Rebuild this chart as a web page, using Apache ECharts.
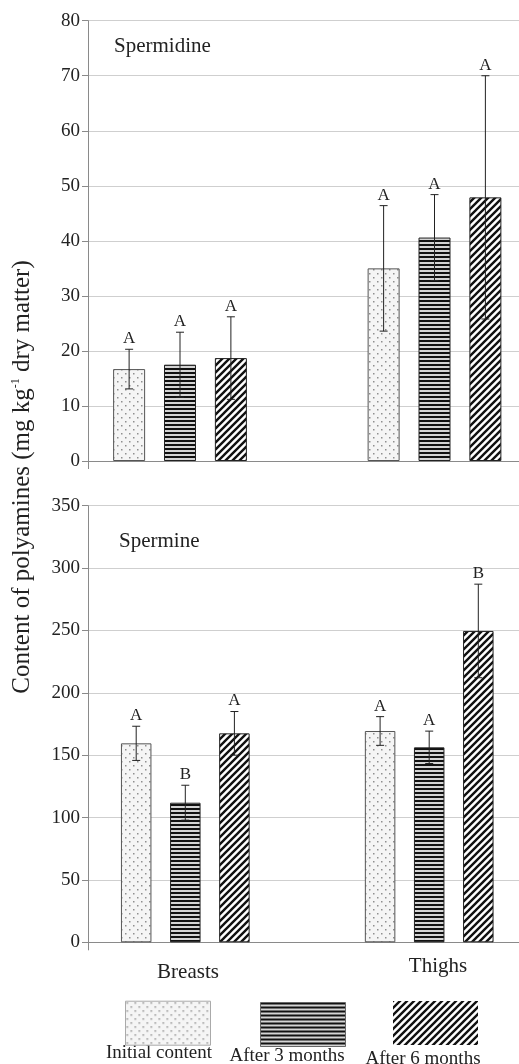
<!DOCTYPE html>
<html><head><meta charset="utf-8">
<script src="https://cdn.jsdelivr.net/npm/echarts@6/dist/echarts.min.js"></script>
<style>html,body{margin:0;padding:0;background:#fff}#c{width:519px;height:1064px}</style>
</head><body><div id="c"></div>
<script>
// ---------- data ----------
const categories = ['Breasts', 'Thighs'];
const seriesNames = ['Initial content', 'After 3 months', 'After 6 months'];

const spermidineInitial = [16.7, 35.0];
const spermidine3m      = [17.5, 40.6];
const spermidine6m      = [18.7, 47.9];
const spermidineInitialSD = [3.6, 11.4];
const spermidine3mSD      = [5.9, 7.8];
const spermidine6mSD      = [7.5, 22.1];
const spermidineInitialLetters = ['A', 'A'];
const spermidine3mLetters      = ['A', 'A'];
const spermidine6mLetters      = ['A', 'A'];

const spermineInitial = [159.5, 169.4];
const spermine3m      = [111.9, 156.3];
const spermine6m      = [167.5, 249.6];
const spermineInitialSD = [13.7, 11.5];
const spermine3mSD      = [14.0, 13.0];
const spermine6mSD      = [17.5, 37.5];
const spermineInitialLetters = ['A', 'A'];
const spermine3mLetters      = ['B', 'A'];
const spermine6mLetters      = ['A', 'B'];

const spermidineAxis = { min: 0, max: 80, interval: 10 };
const spermineAxis   = { min: 0, max: 350, interval: 50 };

const panelTitles = ['Spermidine', 'Spermine'];
const yTitle = 'Content of polyamines (mg kg{sup|-1} dry matter)';

// ---------- styles ----------
const SERIF = '"Liberation Serif", "DejaVu Serif", serif';
function mk(w, h, draw) {
  const c = document.createElement('canvas'); c.width = w; c.height = h;
  const g = c.getContext('2d'); draw(g, w, h);
  return { image: c, repeat: 'repeat' };
}
function dotPat() { return mk(8, 8, g => { g.fillStyle = '#f5f5f5'; g.fillRect(0, 0, 8, 8); g.fillStyle = '#8f8f8f'; g.fillRect(1, 1, 1.5, 1.5); g.fillRect(5, 5, 1.5, 1.5); }); }
function hPat() { return mk(4, 4, g => { g.fillStyle = '#d4d4d4'; g.fillRect(0, 0, 4, 4); g.fillStyle = '#111'; g.fillRect(0, 0, 4, 2); }); }
function dPat() { return mk(7, 7, g => { g.fillStyle = '#fff'; g.fillRect(0, 0, 7, 7); g.strokeStyle = '#111'; g.lineWidth = 2.4; g.beginPath(); g.moveTo(-1, 8); g.lineTo(8, -1); g.moveTo(-1, 1); g.lineTo(1, -1); g.moveTo(6, 8); g.lineTo(8, 6); g.stroke(); }); }
const patterns = [dotPat, hPat, dPat];
const borders = ['#555', '#222', '#222'];

// ---------- build ----------
const panels = [
  { vals: [spermidineInitial, spermidine3m, spermidine6m], sds: [spermidineInitialSD, spermidine3mSD, spermidine6mSD],
    letters: [spermidineInitialLetters, spermidine3mLetters, spermidine6mLetters], axis: spermidineAxis,
    barWidth: 32, barGap: 0.59 },
  { vals: [spermineInitial, spermine3m, spermine6m], sds: [spermineInitialSD, spermine3mSD, spermine6mSD],
    letters: [spermineInitialLetters, spermine3mLetters, spermine6mLetters], axis: spermineAxis,
    barWidth: 30.5, barGap: 0.61 }
];

const grids = [
  { left: 88, top: 20.7, right: 0, height: 440.3, outerBoundsMode: 'none' },
  { left: 52.75, top: 20.7, width: 509, height: 440.3, outerBoundsMode: 'none' },
  { left: 88, top: 505.7, right: 0, height: 436.6, outerBoundsMode: 'none' },
  { left: 63.35, top: 505.7, width: 487.8, height: 436.6, outerBoundsMode: 'none' },
  { left: 63, top: 505.7, width: 500, height: 436.6, outerBoundsMode: 'none' }
];

const xAxes = [], yAxes = [], series = [];
panels.forEach((p, pi) => {
  const gA = pi * 2, gB = pi * 2 + 1;
  xAxes.push({ gridIndex: gA, type: 'value', min: 0, max: 1, interval: 1,
    axisLine: { show: true, lineStyle: { color: '#8a8a8a', width: 1 } },
    axisTick: { show: true, length: 8, lineStyle: { color: '#8a8a8a' } },
    axisLabel: { show: false }, splitLine: { show: false } });
  xAxes.push({ gridIndex: gB, type: 'category', data: categories,
    axisLine: { show: false }, axisTick: { show: false }, axisLabel: { show: false }, splitLine: { show: false } });
  yAxes.push({ gridIndex: gA, type: 'value', min: p.axis.min, max: p.axis.max, interval: p.axis.interval,
    axisLine: { show: true, lineStyle: { color: '#8a8a8a', width: 1 } },
    axisTick: { show: true, length: 6, lineStyle: { color: '#8a8a8a' } },
    axisLabel: { margin: 8, fontFamily: SERIF, fontSize: 19, color: '#222' },
    splitLine: { show: true, lineStyle: { color: '#cfcfcf', width: 1 } } });
  yAxes.push({ gridIndex: gB, type: 'value', min: p.axis.min, max: p.axis.max, interval: p.axis.interval, show: false });

  p.vals.forEach((v, si) => {
    series.push({ name: seriesNames[si], type: 'bar', xAxisIndex: gB, yAxisIndex: gB, data: v,
      barWidth: p.barWidth, barGap: (p.barGap * 100) + '%',
      itemStyle: { color: patterns[si](), borderColor: borders[si], borderWidth: 1 },
      emphasis: { disabled: true }, silent: true, animation: false });
  });
  const errData = [], errLetters = [];
  categories.forEach((c, ci) => {
    p.vals.forEach((v, si) => { errData.push([ci, si, v[ci], p.sds[si][ci]]); errLetters.push(p.letters[si][ci]); });
  });
  const spacing = p.barWidth * (1 + p.barGap);
  series.push({ type: 'custom', xAxisIndex: gB, yAxisIndex: gB, data: errData, encode: { x: 0, y: 2 },
    silent: true, animation: false, z: 5,
    renderItem: (params, api) => {
      const ci = api.value(0), si = api.value(1), v = api.value(2), sd = api.value(3);
      const cx = api.coord([ci, 0])[0] + (si - 1) * spacing;
      const yt = api.coord([ci, v + sd])[1];
      const yb = api.coord([ci, v - sd])[1];
      const ls = { stroke: '#222', lineWidth: 1 };
      return { type: 'group', children: [
        { type: 'line', shape: { x1: cx, y1: yt, x2: cx, y2: yb }, style: ls },
        { type: 'line', shape: { x1: cx - 4, y1: yt, x2: cx + 4, y2: yt }, style: ls },
        { type: 'line', shape: { x1: cx - 4, y1: yb, x2: cx + 4, y2: yb }, style: ls },
        { type: 'text', style: { text: errLetters[params.dataIndex], x: cx, y: yt - 2, align: 'center', verticalAlign: 'bottom',
          font: '17px ' + SERIF, fill: '#222' } }
      ] };
    } });
});
// label-only category axis for bottom panel
xAxes.push({ gridIndex: 4, type: 'category', data: [
    { value: categories[0], textStyle: { padding: [6, 0, 0, 0] } },
    { value: categories[1], textStyle: { padding: [0, 0, 6, 0] } }],
  axisLine: { show: false }, axisTick: { show: false },
  axisLabel: { margin: 14, fontFamily: SERIF, fontSize: 21, color: '#222' } });
yAxes.push({ gridIndex: 4, type: 'value', min: 0, max: 1, show: false });

const legendBoxes = [
  { left: 125, top: 1000.7, itemStyle: { borderColor: '#aaa', borderWidth: 1 } },
  { left: 260, top: 1002, itemStyle: { borderColor: '#666', borderWidth: 1 } },
  { left: 393, top: 1001, itemStyle: { borderWidth: 0 } }
];
const legends = seriesNames.map((n, i) => ({
  data: [{ name: n, itemStyle: legendBoxes[i].itemStyle }], left: legendBoxes[i].left, top: legendBoxes[i].top,
  icon: 'rect', itemWidth: 85, itemHeight: 44, padding: 0, selectedMode: false, formatter: () => ''
}));
const legendLabelPos = [[159, 1053], [287, 1056.5], [423, 1059.5]];

const graphics = [
  { type: 'text', x: 114, y: 46, style: { text: panelTitles[0], font: '21px ' + SERIF, fill: '#222', align: 'left', verticalAlign: 'middle' } },
  { type: 'text', x: 119, y: 541, style: { text: panelTitles[1], font: '21px ' + SERIF, fill: '#222', align: 'left', verticalAlign: 'middle' } },
  { type: 'text', x: 22, y: 477, rotation: Math.PI / 2, style: { text: yTitle, fontFamily: SERIF, fontSize: 25, fill: '#222',
      align: 'center', verticalAlign: 'middle', rich: { sup: { fontFamily: SERIF, fontSize: 12, verticalAlign: 'top', fill: '#222' } } } }
].concat(seriesNames.map((n, i) => ({ type: 'text', x: legendLabelPos[i][0], y: legendLabelPos[i][1],
  style: { text: n, font: '19px ' + SERIF, fill: '#222', align: 'center', verticalAlign: 'middle' } })));

const chart = echarts.init(document.getElementById('c'), null, { renderer: 'canvas' });
chart.setOption({
  animation: false, backgroundColor: '#fff',
  grid: grids, xAxis: xAxes, yAxis: yAxes, series: series, legend: legends, graphic: graphics
});
</script></body></html>
